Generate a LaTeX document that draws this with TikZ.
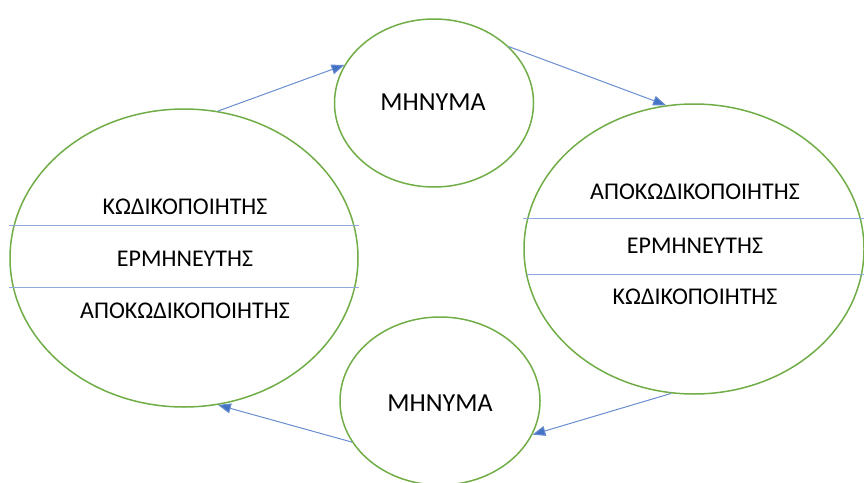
\documentclass[tikz,border=0pt]{standalone}
\usepackage{fontspec}
\setmainfont{Carlito}
\usetikzlibrary{shapes.geometric,arrows.meta,calc}
\definecolor{egreen}{HTML}{70AD47}
\definecolor{ablue}{HTML}{4472C4}
\definecolor{lblue}{HTML}{8FAADC}
\tikzset{
  oval/.style={ellipse,draw=egreen,line width=1.5pt,inner sep=0pt},
  lbl/.style={inner sep=0pt,font=\fontsize{24}{28}\selectfont},
  msg/.style={inner sep=0pt,font=\fontsize{26}{30}\selectfont},
  sep/.style={draw=lblue,line width=1pt},
  flow/.style={draw=ablue!80,line width=1pt,-{Triangle[length=13pt,width=10pt,fill=ablue]}}
}
\begin{document}
\begin{tikzpicture}[x=1pt,y=-1pt]
\useasboundingbox (0,0) rectangle (864,482);
\node[oval,minimum width=348pt,minimum height=298pt] (L) at (184,258) {};
\node[oval,minimum width=340pt,minimum height=290pt] (R) at (694,249) {};
\node[oval,minimum width=199pt,minimum height=168pt] (T) at (434,103) {};
\node[oval,minimum width=200pt,minimum height=168pt] (B) at (440,401) {};
\draw[sep] ($(L.west)+(0,-33)$) -- ($(L.east)+(0,-33)$);
\draw[sep] ($(L.west)+(0,29)$) -- ($(L.east)+(0,29)$);
\draw[sep] ($(R.west)+(0,-31)$) -- ($(R.east)+(2,-31)$);
\draw[sep] ($(R.west)+(4,25)$) -- ($(R.east)+(2,25)$);
\node[lbl] (l1) at (185,207) {ΚΩΔΙΚΟΠΟΙΗΤΗΣ};
\node[lbl] (l2) at (185,259) {ΕΡΜΗΝΕΥΤΗΣ};
\node[lbl] (l3) at (185,311) {ΑΠΟΚΩΔΙΚΟΠΟΙΗΤΗΣ};
\node[lbl] (r1) at (695,192) {ΑΠΟΚΩΔΙΚΟΠΟΙΗΤΗΣ};
\node[lbl] (r2) at (695,246) {ΕΡΜΗΝΕΥΤΗΣ};
\node[lbl] (r3) at (695,297) {ΚΩΔΙΚΟΠΟΙΗΤΗΣ};
\node[msg] (t1) at (433,102) {ΜΗΝΥΜΑ};
\node[msg] (b1) at (440,403) {ΜΗΝΥΜΑ};
\draw[flow] (L.77) -- (T.157);
\draw[flow] (T.37) -- (R.101);
\draw[flow] (R.261) -- (B.340);
\draw[flow] (B.205) -- (L.283);
\end{tikzpicture}
\end{document}
